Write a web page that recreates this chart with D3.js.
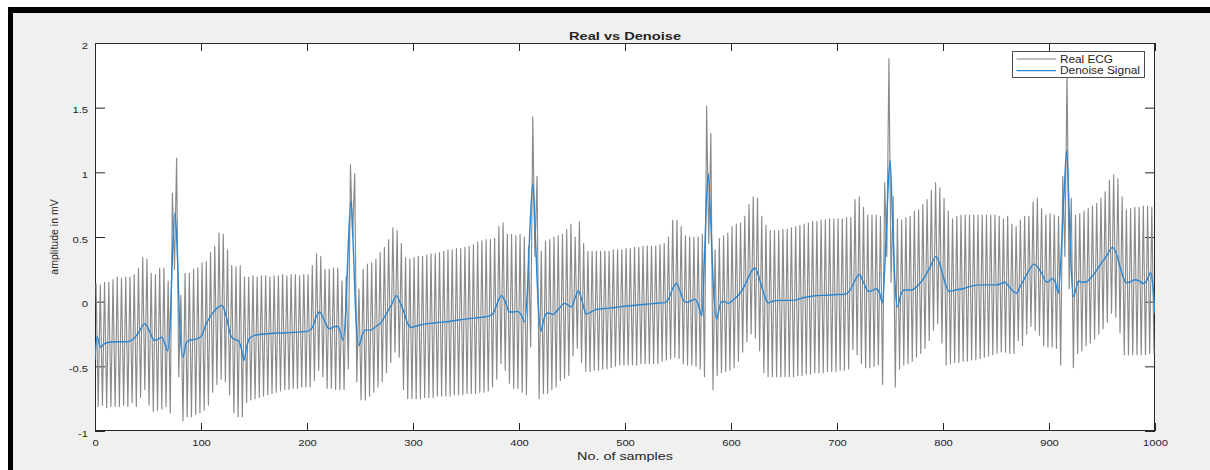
<!DOCTYPE html>
<html>
<head>
<meta charset="utf-8">
<script src="https://cdn.jsdelivr.net/npm/d3@7"></script>
<style>
    body { margin: 0; background: #fff; }
    svg text { font-family: "Liberation Sans", Arial, Helvetica, sans-serif; fill: #262626; }
</style>
</head>
<body>
<div id="ecg"></div>
<script>
// Real ECG: one peak (sample 4k+1) and one trough (sample 4k+3) per noise cycle
const realPeaks = [
    0.14, 0.13, 0.15, 0.15, 0.17, 0.19, 0.18, 0.19, 0.19, 0.21, 0.26, 0.34, 0.33, 0.22, 0.21, 0.26, 0.26, 0.16, 0.84, 1.11, 0.05, 0.22, 0.22, 0.25, 0.26,
    0.30, 0.31, 0.38, 0.43, 0.53, 0.52, 0.40, 0.28, 0.27, 0.28, 0.19, 0.19, 0.20, 0.19, 0.20, 0.20, 0.19, 0.20, 0.20, 0.21, 0.20, 0.21, 0.21, 0.20, 0.21,
    0.21, 0.28, 0.37, 0.35, 0.25, 0.25, 0.26, 0.26, 0.16, 0.20, 1.06, 0.99, 0.10, 0.25, 0.29, 0.30, 0.33, 0.38, 0.42, 0.48, 0.57, 0.55, 0.45, 0.34, 0.33,
    0.34, 0.35, 0.35, 0.36, 0.37, 0.37, 0.38, 0.39, 0.40, 0.40, 0.41, 0.41, 0.42, 0.43, 0.44, 0.46, 0.47, 0.48, 0.48, 0.49, 0.58, 0.61, 0.52, 0.52, 0.51,
    0.52, 0.50, 0.43, 1.43, 0.97, 0.39, 0.47, 0.48, 0.50, 0.51, 0.52, 0.56, 0.60, 0.50, 0.62, 0.45, 0.39, 0.39, 0.39, 0.39, 0.39, 0.39, 0.40, 0.40, 0.40,
    0.41, 0.41, 0.42, 0.42, 0.43, 0.43, 0.43, 0.43, 0.44, 0.45, 0.50, 0.63, 0.63, 0.58, 0.51, 0.50, 0.50, 0.50, 0.52, 1.51, 1.30, 0.40, 0.49, 0.51, 0.53,
    0.58, 0.60, 0.61, 0.66, 0.75, 0.81, 0.80, 0.66, 0.59, 0.55, 0.55, 0.55, 0.56, 0.56, 0.57, 0.58, 0.59, 0.60, 0.61, 0.62, 0.62, 0.63, 0.63, 0.64, 0.64,
    0.64, 0.64, 0.65, 0.65, 0.79, 0.81, 0.73, 0.67, 0.67, 0.67, 0.66, 0.92, 1.88, 0.81, 0.64, 0.63, 0.65, 0.66, 0.70, 0.71, 0.75, 0.79, 0.86, 0.92, 0.88,
    0.80, 0.70, 0.64, 0.66, 0.67, 0.67, 0.67, 0.67, 0.67, 0.67, 0.67, 0.67, 0.67, 0.66, 0.64, 0.66, 0.60, 0.58, 0.63, 0.66, 0.66, 0.77, 0.80, 0.72, 0.67,
    0.68, 0.67, 0.66, 0.97, 1.77, 0.80, 0.67, 0.68, 0.70, 0.72, 0.74, 0.76, 0.80, 0.85, 0.94, 0.98, 0.95, 0.81, 0.71, 0.72, 0.73, 0.73, 0.74, 0.74, 0.73
];
const realTroughs = [
    -0.81, -0.80, -0.82, -0.81, -0.81, -0.81, -0.80, -0.81, -0.78, -0.81, -0.74, -0.68, -0.80, -0.85, -0.84, -0.83, -0.81, -0.86, 0.25, -0.58, -0.92, -0.89, -0.89, -0.87, -0.86,
    -0.84, -0.80, -0.70, -0.64, -0.60, -0.62, -0.72, -0.86, -0.89, -0.89, -0.78, -0.76, -0.75, -0.74, -0.73, -0.72, -0.71, -0.70, -0.69, -0.68, -0.68, -0.67, -0.67, -0.66, -0.66,
    -0.66, -0.61, -0.53, -0.58, -0.67, -0.67, -0.68, -0.68, -0.68, -0.52, 0.50, -0.62, -0.76, -0.76, -0.73, -0.70, -0.66, -0.62, -0.55, -0.47, -0.39, -0.43, -0.68, -0.75, -0.75,
    -0.75, -0.75, -0.74, -0.74, -0.74, -0.73, -0.73, -0.73, -0.73, -0.72, -0.72, -0.72, -0.71, -0.71, -0.71, -0.70, -0.70, -0.69, -0.66, -0.60, -0.48, -0.53, -0.63, -0.67, -0.67,
    -0.70, -0.72, -0.35, 0.35, -0.75, -0.71, -0.71, -0.68, -0.66, -0.61, -0.59, -0.57, -0.42, -0.36, -0.47, -0.54, -0.54, -0.53, -0.53, -0.52, -0.52, -0.51, -0.50, -0.49, -0.49,
    -0.49, -0.49, -0.49, -0.48, -0.48, -0.48, -0.48, -0.48, -0.46, -0.45, -0.44, -0.43, -0.44, -0.48, -0.49, -0.49, -0.50, -0.52, -0.58, 0.45, -0.68, -0.57, -0.55, -0.54, -0.53,
    -0.51, -0.46, -0.39, -0.31, -0.25, -0.28, -0.38, -0.55, -0.58, -0.58, -0.58, -0.58, -0.58, -0.58, -0.58, -0.57, -0.57, -0.56, -0.56, -0.55, -0.55, -0.55, -0.54, -0.54, -0.54,
    -0.53, -0.53, -0.52, -0.37, -0.41, -0.48, -0.51, -0.51, -0.50, -0.49, -0.64, 0.35, 0.15, -0.66, -0.52, -0.49, -0.48, -0.46, -0.43, -0.40, -0.36, -0.30, -0.22, -0.17, -0.32,
    -0.49, -0.48, -0.47, -0.47, -0.46, -0.46, -0.45, -0.45, -0.44, -0.43, -0.42, -0.41, -0.40, -0.39, -0.39, -0.40, -0.40, -0.30, -0.34, -0.25, -0.19, -0.22, -0.26, -0.34, -0.35,
    -0.35, -0.36, -0.49, 0.35, 0.10, -0.51, -0.40, -0.38, -0.34, -0.32, -0.29, -0.25, -0.21, -0.16, -0.09, -0.12, -0.24, -0.41, -0.41, -0.41, -0.41, -0.41, -0.41, -0.40, -0.40
];

// Denoised signal, read at its turning points
const denoiseX = [
    0, 2, 5, 10, 20, 30, 36, 41, 47, 52, 56, 60, 63, 66, 68.5, 71, 73, 75.5, 78, 80, 83, 86, 89, 95,
    100, 105, 110, 115, 120, 124, 128, 131, 135, 138, 140.5, 143, 146, 151, 160, 180,
    200, 205, 209, 212, 216, 221, 225, 228.5, 231, 234, 237, 239, 241.5, 244, 246, 249, 252, 255, 260, 265, 269, 275, 280, 284.5, 288, 291, 295, 298.5,
    302, 306.5, 320, 332, 345, 357, 365, 372.5, 377, 380, 383.5, 387, 391, 395, 398.5,
    402, 405.5, 408, 410.5, 413, 415.5, 418, 420.5, 423, 426, 429, 432, 437, 443, 449.5, 453, 456, 459, 463.5, 468, 473, 485, 495,
    507, 520, 530, 537.5, 541, 545, 548.5, 552, 556, 559, 563, 566, 569, 572.5, 575, 577, 578.6, 581, 583.5, 586.5, 589, 591, 594, 597.5,
    603, 608.5, 612, 616, 619, 622.5, 626, 629, 632, 635, 640, 646, 652, 659, 668, 677.5, 690,
    700, 706, 711, 715, 718, 721, 725, 729.5, 733, 737, 740, 742.8, 745, 747.5, 750, 752.5, 755, 757, 760, 763, 770, 777, 783, 788, 793.5, 797,
    800, 803, 806, 812, 819, 827, 835, 843, 850.5, 855, 858.5, 862, 866, 869.5, 873, 877, 881, 886, 890, 893, 897.8,
    900.5, 903, 906, 908.8, 911, 914, 916.7, 919, 921, 923, 925.5, 927.7, 931, 934, 941, 948, 954, 960, 964, 967, 970, 972.6, 976, 981, 985, 989, 992, 996, 998, 1000
];
const denoiseY = [
    -0.45, -0.27, -0.35, -0.32, -0.31, -0.31, -0.29, -0.24, -0.17, -0.24, -0.30, -0.29, -0.275, -0.33, -0.38, -0.15, 0.35, 0.69, 0.30, -0.20, -0.43, -0.32, -0.30, -0.29,
    -0.27, -0.17, -0.10, -0.05, -0.03, -0.12, -0.26, -0.29, -0.30, -0.36, -0.455, -0.35, -0.28, -0.26, -0.25, -0.24,
    -0.23, -0.20, -0.11, -0.08, -0.14, -0.21, -0.195, -0.19, -0.22, -0.30, 0.00, 0.45, 0.78, 0.35, -0.10, -0.34, -0.26, -0.22, -0.22, -0.19, -0.17, -0.09, -0.02, 0.047, -0.01, -0.07, -0.17, -0.20,
    -0.19, -0.18, -0.165, -0.155, -0.14, -0.127, -0.12, -0.11, -0.07, 0.00, 0.047, 0.00, -0.08, -0.08, -0.075,
    -0.10, -0.155, 0.10, 0.60, 0.915, 0.50, 0.00, -0.23, -0.15, -0.09, -0.09, -0.10, -0.06, -0.013, -0.04, 0.03, 0.085, 0.02, -0.095, -0.08, -0.06, -0.05, -0.04,
    -0.03, -0.02, -0.012, -0.007, 0.02, 0.10, 0.14, 0.08, 0.00, -0.005, 0.01, 0.02, -0.02, -0.11, 0.35, 0.80, 0.99, 0.60, 0.10, -0.136, -0.05, 0.00, 0.00, -0.013,
    0.02, 0.065, 0.11, 0.18, 0.23, 0.26, 0.20, 0.115, 0.04, -0.01, 0.005, 0.01, 0.01, 0.01, 0.03, 0.044, 0.05,
    0.055, 0.055, 0.075, 0.13, 0.18, 0.21, 0.15, 0.08, 0.085, 0.10, 0.07, -0.01, 0.25, 0.75, 1.095, 0.60, 0.10, -0.04, 0.05, 0.09, 0.09, 0.13, 0.195, 0.27, 0.35, 0.29,
    0.20, 0.12, 0.08, 0.09, 0.10, 0.12, 0.13, 0.13, 0.13, 0.14, 0.15, 0.12, 0.08, 0.065, 0.12, 0.18, 0.24, 0.29, 0.26, 0.22, 0.15,
    0.16, 0.18, 0.15, 0.065, 0.30, 0.80, 1.17, 0.70, 0.25, 0.04, 0.10, 0.16, 0.15, 0.15, 0.20, 0.28, 0.35, 0.42, 0.36, 0.27, 0.19, 0.147, 0.15, 0.17, 0.16, 0.14, 0.16, 0.225, 0.12, -0.09
];

const xTicks = [0, 100, 200, 300, 400, 500, 600, 700, 800, 900, 1000];
const yTicks = [-1, -0.5, 0, 0.5, 1, 1.5, 2];
const legendLabels = ["Real ECG", "Denoise Signal"];

class EcgChart {
    // option: ele, width, height, left, top, right, bottom
    constructor(option) {
        for (let [key, value] of Object.entries(option)) {
            this[key] = value;
        }
        this.gWidth = this.right - this.left;
        this.gHeight = this.bottom - this.top;
        this.x = d3.scaleLinear().domain([0, 1000]).range([0, this.gWidth]);
        this.y = d3.scaleLinear().domain([-1, 2]).range([this.gHeight, 0]);
        this.creatSvg();
        this.creatAxes();
        this.creatLines();
        this.creatTexts();
        this.creatLegend();
    }
    creatSvg() {
        this.svg = d3.select(this.ele)
            .append('svg')
            .attr('width', this.width)
            .attr('height', this.height);
        // white page, black frame, grey figure
        this.svg.append('rect').attr('width', this.width).attr('height', this.height).attr('fill', '#fff');
        this.svg.append('rect').attr('x', 8).attr('y', 7)
            .attr('width', this.width - 8).attr('height', this.height - 7).attr('fill', '#000');
        this.svg.append('rect').attr('x', 13).attr('y', 13)
            .attr('width', this.width - 13).attr('height', this.height - 13).attr('fill', '#f0f0f0');

        this.layerg = this.svg.append('g')
            .attr('transform', `translate(${this.left},${this.top})`);
        this.layerg.append('rect')
            .attr('width', this.gWidth).attr('height', this.gHeight).attr('fill', '#fff');
        this.layerg.append('clipPath').attr('id', 'plotClip')
            .append('rect').attr('width', this.gWidth).attr('height', this.gHeight);
    }
    creatAxes() {
        const x = this.x, y = this.y;
        const plain = d => String(d);
        const styleAxis = g => {
            g.select('.domain').remove();
            g.selectAll('.tick line').attr('stroke', '#262626').attr('stroke-width', 1);
            g.selectAll('text').attr('font-size', '9.5px').attr('fill', '#262626');
        };
        // bottom and top, ticks point inward
        this.layerg.append('g')
            .attr('transform', `translate(0,${this.gHeight})`)
            .call(d3.axisBottom(x).tickValues(xTicks).tickSizeInner(-8).tickSizeOuter(0).tickFormat(plain))
            .call(styleAxis)
            .call(g => g.selectAll('text').attr('y', 8).attr('transform', 'scale(1.18,1)'));
        this.layerg.append('g')
            .call(d3.axisTop(x).tickValues(xTicks).tickSizeInner(-8).tickSizeOuter(0).tickFormat(''))
            .call(styleAxis);
        this.layerg.append('g')
            .call(d3.axisLeft(y).tickValues(yTicks).tickSizeInner(-10).tickSizeOuter(0).tickFormat(plain))
            .call(styleAxis)
            .call(g => g.selectAll('text').attr('x', -7 / 1.18).attr('y', 2).attr('transform', 'scale(1.18,1)'));
        this.layerg.append('g')
            .attr('transform', `translate(${this.gWidth},0)`)
            .call(d3.axisRight(y).tickValues(yTicks).tickSizeInner(-10).tickSizeOuter(0).tickFormat(''))
            .call(styleAxis);

        this.layerg.append('rect')
            .attr('x', 0.5).attr('y', 0.5)
            .attr('width', this.gWidth - 1).attr('height', this.gHeight - 1)
            .attr('fill', 'none').attr('stroke', '#262626').attr('stroke-width', 1);
    }
    creatLines() {
        const x = this.x, y = this.y;
        const real = d3.merge(realPeaks.map((p, k) => [[4 * k + 1, p], [4 * k + 3, realTroughs[k]]]));
        const denoise = denoiseX.map((s, i) => [s, denoiseY[i]]);

        const plot = this.layerg.append('g').attr('clip-path', 'url(#plotClip)');
        plot.append('path')
            .datum(real)
            .attr('fill', 'none')
            .attr('stroke', '#8a8a8a')
            .attr('stroke-width', 1.15)
            .attr('stroke-linejoin', 'round')
            .attr('d', d3.line().x(d => x(d[0])).y(d => y(d[1])));
        plot.append('path')
            .datum(denoise)
            .attr('fill', 'none')
            .attr('stroke', '#2b86cf')
            .attr('stroke-width', 1.4)
            .attr('d', d3.line().curve(d3.curveMonotoneX).x(d => x(d[0])).y(d => y(d[1])));
    }
    creatTexts() {
        const cx = this.left + this.gWidth / 2;
        this.svg.append('text')
            .attr('x', cx).attr('y', 40)
            .attr('text-anchor', 'middle')
            .attr('font-size', '11px').attr('font-weight', 'bold')
            .attr('textLength', 112).attr('lengthAdjust', 'spacingAndGlyphs')
            .attr('fill', '#000')
            .text('Real vs Denoise');
        this.svg.append('text')
            .attr('x', cx).attr('y', 460)
            .attr('text-anchor', 'middle')
            .attr('font-size', '10.5px')
            .attr('textLength', 96).attr('lengthAdjust', 'spacingAndGlyphs')
            .text('No. of samples');
        this.svg.append('text')
            .attr('transform', `translate(58,${this.top + this.gHeight / 2}) rotate(-90)`)
            .attr('text-anchor', 'middle')
            .attr('font-size', '10.5px')
            .text('amplitude in mV');
    }
    creatLegend() {
        const lg = this.svg.append('g').attr('transform', 'translate(1012.5,51.5)');
        lg.append('rect')
            .attr('width', 132).attr('height', 26)
            .attr('fill', '#fff').attr('stroke', '#4d4d4d').attr('stroke-width', 1);
        const colors = ['#7f7f7f', '#2b86cf'];
        const widths = [53, 80];
        legendLabels.forEach((label, i) => {
            const yy = 7.5 + i * 11.7;
            lg.append('line')
                .attr('x1', 4).attr('x2', 43.5).attr('y1', yy).attr('y2', yy)
                .attr('stroke', colors[i]).attr('stroke-width', i ? 1.3 : 1);
            lg.append('text')
                .attr('x', 47.5).attr('y', yy + 3.5)
                .attr('font-size', '10px')
                .attr('textLength', widths[i]).attr('lengthAdjust', 'spacingAndGlyphs')
                .text(label);
        });
    }
}

let chart = new EcgChart({
    ele: document.getElementById('ecg'),
    width: 1210,
    height: 470,
    left: 95,
    top: 43,
    right: 1155,
    bottom: 431
});
</script>
</body>
</html>
